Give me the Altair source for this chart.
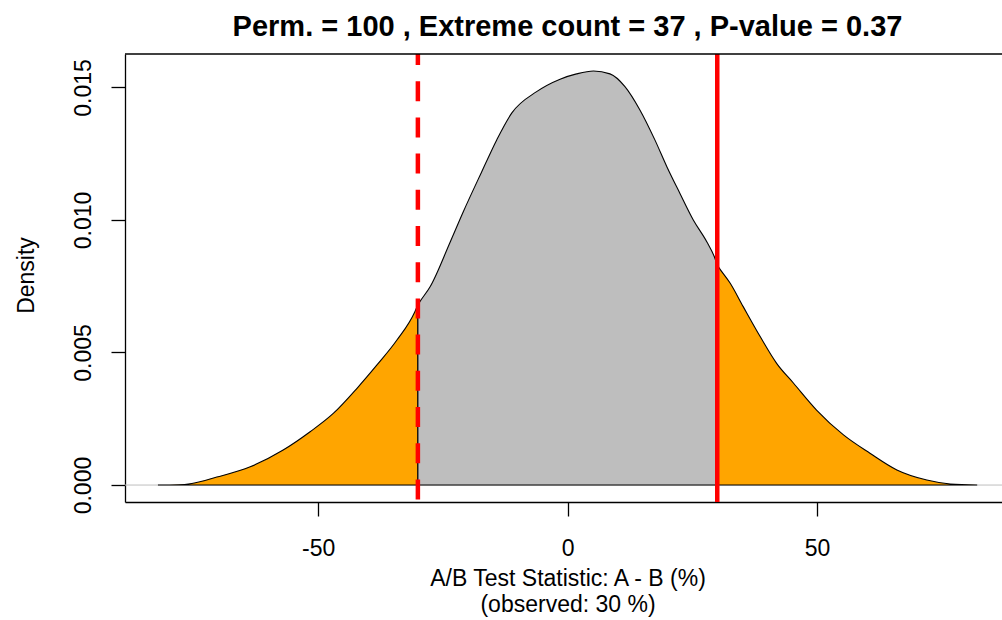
import altair as alt
import pandas as pd

# Permutation-null density of the A/B statistic (percentage points)
dens_x = [-82.1, -78.0, -75.3, -70.3, -63.6, -57.0, -51.6, -46.9, -42.2, -38.2,
          -34.2, -30.6, -30.0, -29.6, -27.55, -23.5, -20.9, -17.2, -14.2, -11.2,
          -6.2, -1.5, 1.8, 5.2, 8.5, 11.5, 14.5, 17.5, 19.9, 22.5,
          25.2, 27.9, 29.4, 30.0, 30.2, 32.6, 35.2, 38.6, 41.9, 45.3,
          49.9, 55.3, 60.6, 66.0, 72.0, 76.7, 82.1]
dens_y = [0.0, 0.00001, 0.00006, 0.00030, 0.00069, 0.00132, 0.00201, 0.00271, 0.00365, 0.00453,
          0.00547, 0.00654, 0.00680, 0.00692, 0.00748, 0.00918, 0.01031, 0.01182, 0.01302, 0.01403,
          0.01484, 0.01531, 0.01551, 0.01562, 0.01551, 0.01503, 0.01415, 0.01302, 0.01201, 0.01101,
          0.01000, 0.00918, 0.00862, 0.00830, 0.00824, 0.00761, 0.00673, 0.00560, 0.00459, 0.00384,
          0.00283, 0.00189, 0.00120, 0.00057, 0.00019, 0.00004, 0.0]

observed = 30
n_perm = 100
extreme = 37
p_value = 0.37

# split the curve into lower tail / centre / upper tail (boundaries shared)
rows = []
for xv, yv in zip(dens_x, dens_y):
    if xv <= -observed:
        rows.append({"x": xv, "y": yv, "part": "lower"})
    if -observed <= xv <= observed:
        rows.append({"x": xv, "y": yv, "part": "middle"})
    if xv >= observed:
        rows.append({"x": xv, "y": yv, "part": "upper"})
curve = pd.DataFrame(rows)

W, H = 877, 448
FONT = "Liberation Sans"

xscale = alt.Scale(domain=[-88.7, 87.07], nice=False, zero=False)
yscale = alt.Scale(domain=[-0.00064, 0.01626], nice=False, zero=False)

xaxis = alt.Axis(
    values=[-50, 0, 50], labelExpr="'' + datum.value", grid=False,
    title=["A/B Test Statistic: A - B (%)", f"(observed: {observed} %)"],
    domainColor="black", domainWidth=1.3, tickColor="black", tickWidth=1.3, tickSize=14,
    labelFont=FONT, labelFontSize=23, labelColor="black", labelPadding=39,
    labelBaseline="alphabetic", labelFlush=False,
    titleFont=FONT, titleFontSize=23, titleFontWeight="normal", titleColor="black",
    titleLineHeight=26, titleBaseline="alphabetic", titleAlign="center",
    titleX=442.5, titleY=83,
)
yaxis = alt.Axis(
    values=[0, 0.005, 0.01, 0.015], format=".3f", grid=False, title="Density",
    domainColor="black", domainWidth=1.3, tickColor="black", tickWidth=1.3, tickSize=14,
    labelFont=FONT, labelFontSize=23, labelColor="black", labelPadding=21,
    labelAngle=270, labelAlign="center", labelBaseline="alphabetic", labelFlush=False,
    titleFont=FONT, titleFontSize=23, titleFontWeight="normal", titleColor="black",
    titleAngle=270, titleAlign="center", titleBaseline="alphabetic",
    titleX=-92, titleY=221,
)

X = alt.X("x:Q", scale=xscale, axis=xaxis)
Y = alt.Y("y:Q", scale=yscale, axis=yaxis, stack=None)

baseline = alt.Chart(pd.DataFrame({"y": [0.0]})).mark_rule(
    color="#BEBEBE", strokeWidth=1
).encode(y=Y)

areas = alt.Chart(curve).mark_area(
    stroke="black", strokeWidth=1.1, opacity=1, interpolate="monotone"
).encode(
    x=X, y=Y,
    color=alt.Color("part:N", legend=None,
                    scale=alt.Scale(domain=["lower", "middle", "upper"],
                                    range=["#FFA500", "#BEBEBE", "#FFA500"])),
)

neg_line = alt.Chart(pd.DataFrame({"x": [-observed]})).mark_rule(
    color="#FF0000", strokeWidth=4.5, strokeDash=[20, 16.2], strokeDashOffset=9
).encode(x=X, y=alt.value(0), y2=alt.value(H))

pos_line = alt.Chart(pd.DataFrame({"x": [observed]})).mark_rule(
    color="#FF0000", strokeWidth=4.5
).encode(x=X, y=alt.value(0), y2=alt.value(H))

top_border = alt.Chart(pd.DataFrame({"x": [0]})).mark_rule(
    color="black", strokeWidth=1.3
).encode(x=alt.value(0), x2=alt.value(W), y=alt.value(0))

chart = alt.layer(baseline, areas, neg_line, pos_line, top_border).properties(
    width=W, height=H,
    title=alt.TitleParams(
        f"Perm. = {n_perm} , Extreme count = {extreme} , P-value = {p_value}",
        font=FONT, fontSize=29, fontWeight="bold", color="black",
        anchor="middle", dx=4, dy=31, offset=18, baseline="alphabetic",
    ),
    autosize=alt.AutoSizeParams(type="none"),
    padding={"left": 125, "top": 54, "right": 0, "bottom": 118},
    background="white",
).configure_view(stroke=None)

chart.save("out.html", embed_options={"renderer": "svg", "actions": False})
